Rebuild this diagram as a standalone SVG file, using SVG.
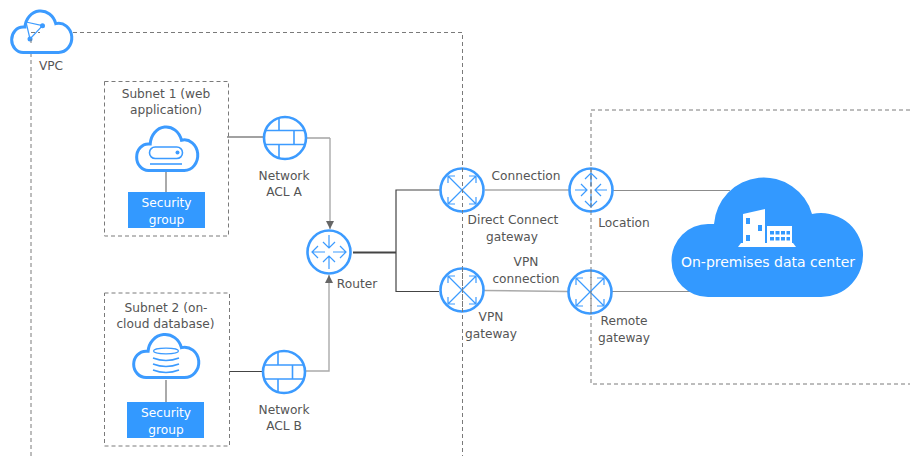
<svg xmlns="http://www.w3.org/2000/svg" xmlns:xlink="http://www.w3.org/1999/xlink" width="910" height="456" viewBox="0 0 910 456">
<style>
text{font-family:"DejaVu Sans",sans-serif;font-size:12.2px;fill:#555;text-anchor:middle}
.w{fill:#fff}
.big{font-size:14px}
.dash{fill:none;stroke:#7a7a7a;stroke-width:1;stroke-dasharray:4 3}
.dark{fill:none;stroke:#444;stroke-width:1.2}
.mid{fill:none;stroke:#8c8c8c;stroke-width:1.2}
.lg{fill:none;stroke:#aaa;stroke-width:2}
.ring{fill:none;stroke:#3c9bff;stroke-width:2.6}
.in{fill:none;stroke:#3c9bff;stroke-width:1.2}
.cl{fill:#fff;stroke:#3c9bff;stroke-width:3}
#cloud{vector-effect:non-scaling-stroke}
.box{fill:#3399ff}
</style>
<defs>
<path id="cloud" d="M37 118A36.5 36.500 0 0 1 37 45L43 45A50 50 0 0 1 141 35A42 42 0 1 1 149 118Z"/>
<marker id="arr" markerWidth="10" markerHeight="10" refX="8" refY="4" orient="auto" markerUnits="userSpaceOnUse"><path d="M0 0L8 4L0 8Z" fill="#666"/></marker>
<g id="router4"><circle r="21.5" class="ring"/></g>
<g id="xarrows" class="in">
<path d="M-14-14L14 14M-14 14L14-14M-14-7V-14H-7M14-7V-14H7M-14 7V14H-7M14 7V14H7" fill="none"/>
</g>
</defs>

<g id="boundaries">
<path class="dash" d="M31 39V456M31 32.500H462.500V456"/>
<path class="dash" d="M910 110H591V384H910"/>
</g>

<g id="connectors">
<path class="dark" d="M227 137H264"/>
<path class="mid" d="M307 138H330"/>
<path class="lg" d="M330 138V229" style="stroke-width:1.400" marker-end="url(#arr)"/>
<path class="dark" d="M229 371.500H262"/>
<path class="lg" d="M306 371H329V275" style="stroke-width:1.400" marker-end="url(#arr)"/>
<path class="dark" d="M353 252.500H396" style="stroke-width:2"/>
<path class="dark" d="M441 190H396V291.500H439"/>
<path class="lg" d="M485 190H569" style="stroke-width:1.400"/>
<path class="lg" d="M484 290.500L568 291.500" style="stroke-width:1.400"/>
<path class="mid" d="M612 190.500H730"/>
<path class="mid" d="M612 291.500H695"/>
<path class="lg" d="M166 172V192"/>
<path class="lg" d="M166 380V402"/>
</g>

<g id="vpc">
<use xlink:href="#cloud" class="cl" transform="translate(11.500 11.500) scale(.314 .347)"/>
<path class="in" d="M26 22L42.500 25.700L30 39Z"/>
<circle cx="42.500" cy="25.700" r="2.500" fill="#3c9bff"/><circle cx="30" cy="39" r="2.500" fill="#3c9bff"/>
<path d="M31 39V46M31 32.500H40" class="dash"/>
<text x="51" y="70">VPC</text>
</g>

<g id="subnet1">
<rect x="104.500" y="81.500" width="124" height="154.500" class="dash"/>
<text x="166" y="98">Subnet 1 (web</text>
<text x="166" y="114">application)</text>
<use xlink:href="#cloud" class="cl" transform="translate(136.500 127.500) scale(.319 .364)"/>
<rect x="149.500" y="147" width="33" height="11.500" rx="5.700" class="in" style="stroke-width:1.600"/>
<circle cx="177.500" cy="152.500" r="2" fill="#3c9bff"/>
<path d="M150 164H182" class="in" style="stroke-width:1.600"/>
<rect x="128" y="192" width="77" height="36" class="box"/>
<text x="166.500" y="207" class="w">Security</text>
<text x="166.500" y="224" class="w">group</text>
</g>

<g id="subnet2">
<rect x="104.500" y="293" width="125" height="153" class="dash"/>
<text x="166" y="312">Subnet 2 (on-</text>
<text x="165.500" y="328">cloud database)</text>
<use xlink:href="#cloud" class="cl" transform="translate(133.500 335) scale(.34 .36)"/>
<ellipse cx="166" cy="351" rx="12.500" ry="2.800" class="in"/>
<path d="M153 358Q166 363 179 358M153 364Q166 369 179 364M153 370Q166 375 179 370" class="in" style="stroke-width:1.500"/>
<rect x="127" y="402" width="77" height="36" class="box"/>
<text x="166" y="417" class="w">Security</text>
<text x="166" y="434" class="w">group</text>
</g>

<g id="acl-a">
<circle cx="285" cy="138" r="21" class="ring"/>
<path class="in" d="M265 130.500H305M265 144.500H305M279 117.500V130.500M279 144.500V158.500M294 130.500V144.500" style="stroke-width:1.600"/>
<text x="284" y="180">Network</text>
<text x="284" y="196">ACL A</text>
</g>

<g id="acl-b">
<circle cx="284" cy="372" r="21" class="ring"/>
<path class="in" d="M264 365H304M264 379H304M278 351.500V365M278 379V392.500M292.500 365V379" style="stroke-width:1.600"/>
<text x="284" y="414">Network</text>
<text x="284" y="430">ACL B</text>
</g>

<g id="router">
<circle cx="329" cy="252" r="21.500" class="ring"/>
<path class="in" d="M329 235V248M323 242L329 248L335 242M329 269V256M323 262L329 256L335 262M312 252H325M318 246L312 252L318 258M346 252H333M340 246L346 252L340 258"/>
<text x="357" y="288">Router</text>
</g>

<g id="direct-connect-gateway">
<use xlink:href="#router4" x="462" y="190"/>
<use xlink:href="#xarrows" x="462" y="190"/>
<path d="M462.500 168V212" class="dash"/>
<text x="513" y="224">Direct Connect</text>
<text x="512" y="241">gateway</text>
</g>

<g id="location">
<circle cx="591" cy="190" r="21.500" class="ring"/>
<path class="in" d="M591 173V186M585 179L591 173L597 179M591 207V194M585 201L591 207L597 201M575 190H587M581 184L587 190L581 196M607 190H595M601 184L595 190L601 196"/>
<path d="M591 168V212" class="dash"/>
<text x="624" y="227">Location</text>
</g>

<g id="vpn-gateway">
<use xlink:href="#router4" x="462" y="290"/>
<use xlink:href="#xarrows" x="462" y="290"/>
<path d="M462.500 268V312" class="dash"/>
<text x="491" y="321">VPN</text>
<text x="491" y="338">gateway</text>
</g>

<g id="remote-gateway">
<use xlink:href="#router4" x="590" y="292"/>
<use xlink:href="#xarrows" x="590" y="292"/>
<path d="M591 270V314" class="dash"/>
<text x="624" y="325">Remote</text>
<text x="624" y="342">gateway</text>
</g>

<g id="edge-labels">
<text x="526" y="180">Connection</text>
<text x="526" y="266">VPN</text>
<text x="526" y="283">connection</text>
</g>

<g id="data-center">
<use xlink:href="#cloud" fill="#3399ff" transform="translate(671 179)"/>
<path fill="#fff" fill-rule="evenodd" d="M743 214L765 209V243H743ZM746 218V224H750V218ZM758 225V231H762V225ZM746 235V241H750V235Z"/>
<path fill="#fff" fill-rule="evenodd" d="M767 226H792V243H767ZM770 231V234.500H774V231ZM775.500 231V234.500H779.500V231ZM781 231V234.500H785V231ZM786.500 231V234.500H790V231ZM770 237V240.500H774V237ZM775.500 237V240.500H779.500V237ZM781 237V240.500H785V237ZM786.500 237V240.500H790V237Z"/>
<path fill="#fff" d="M741 243H793L796 247H738Z"/>
<text x="768" y="267" class="w big">On-premises data center</text>
</g>
</svg>
